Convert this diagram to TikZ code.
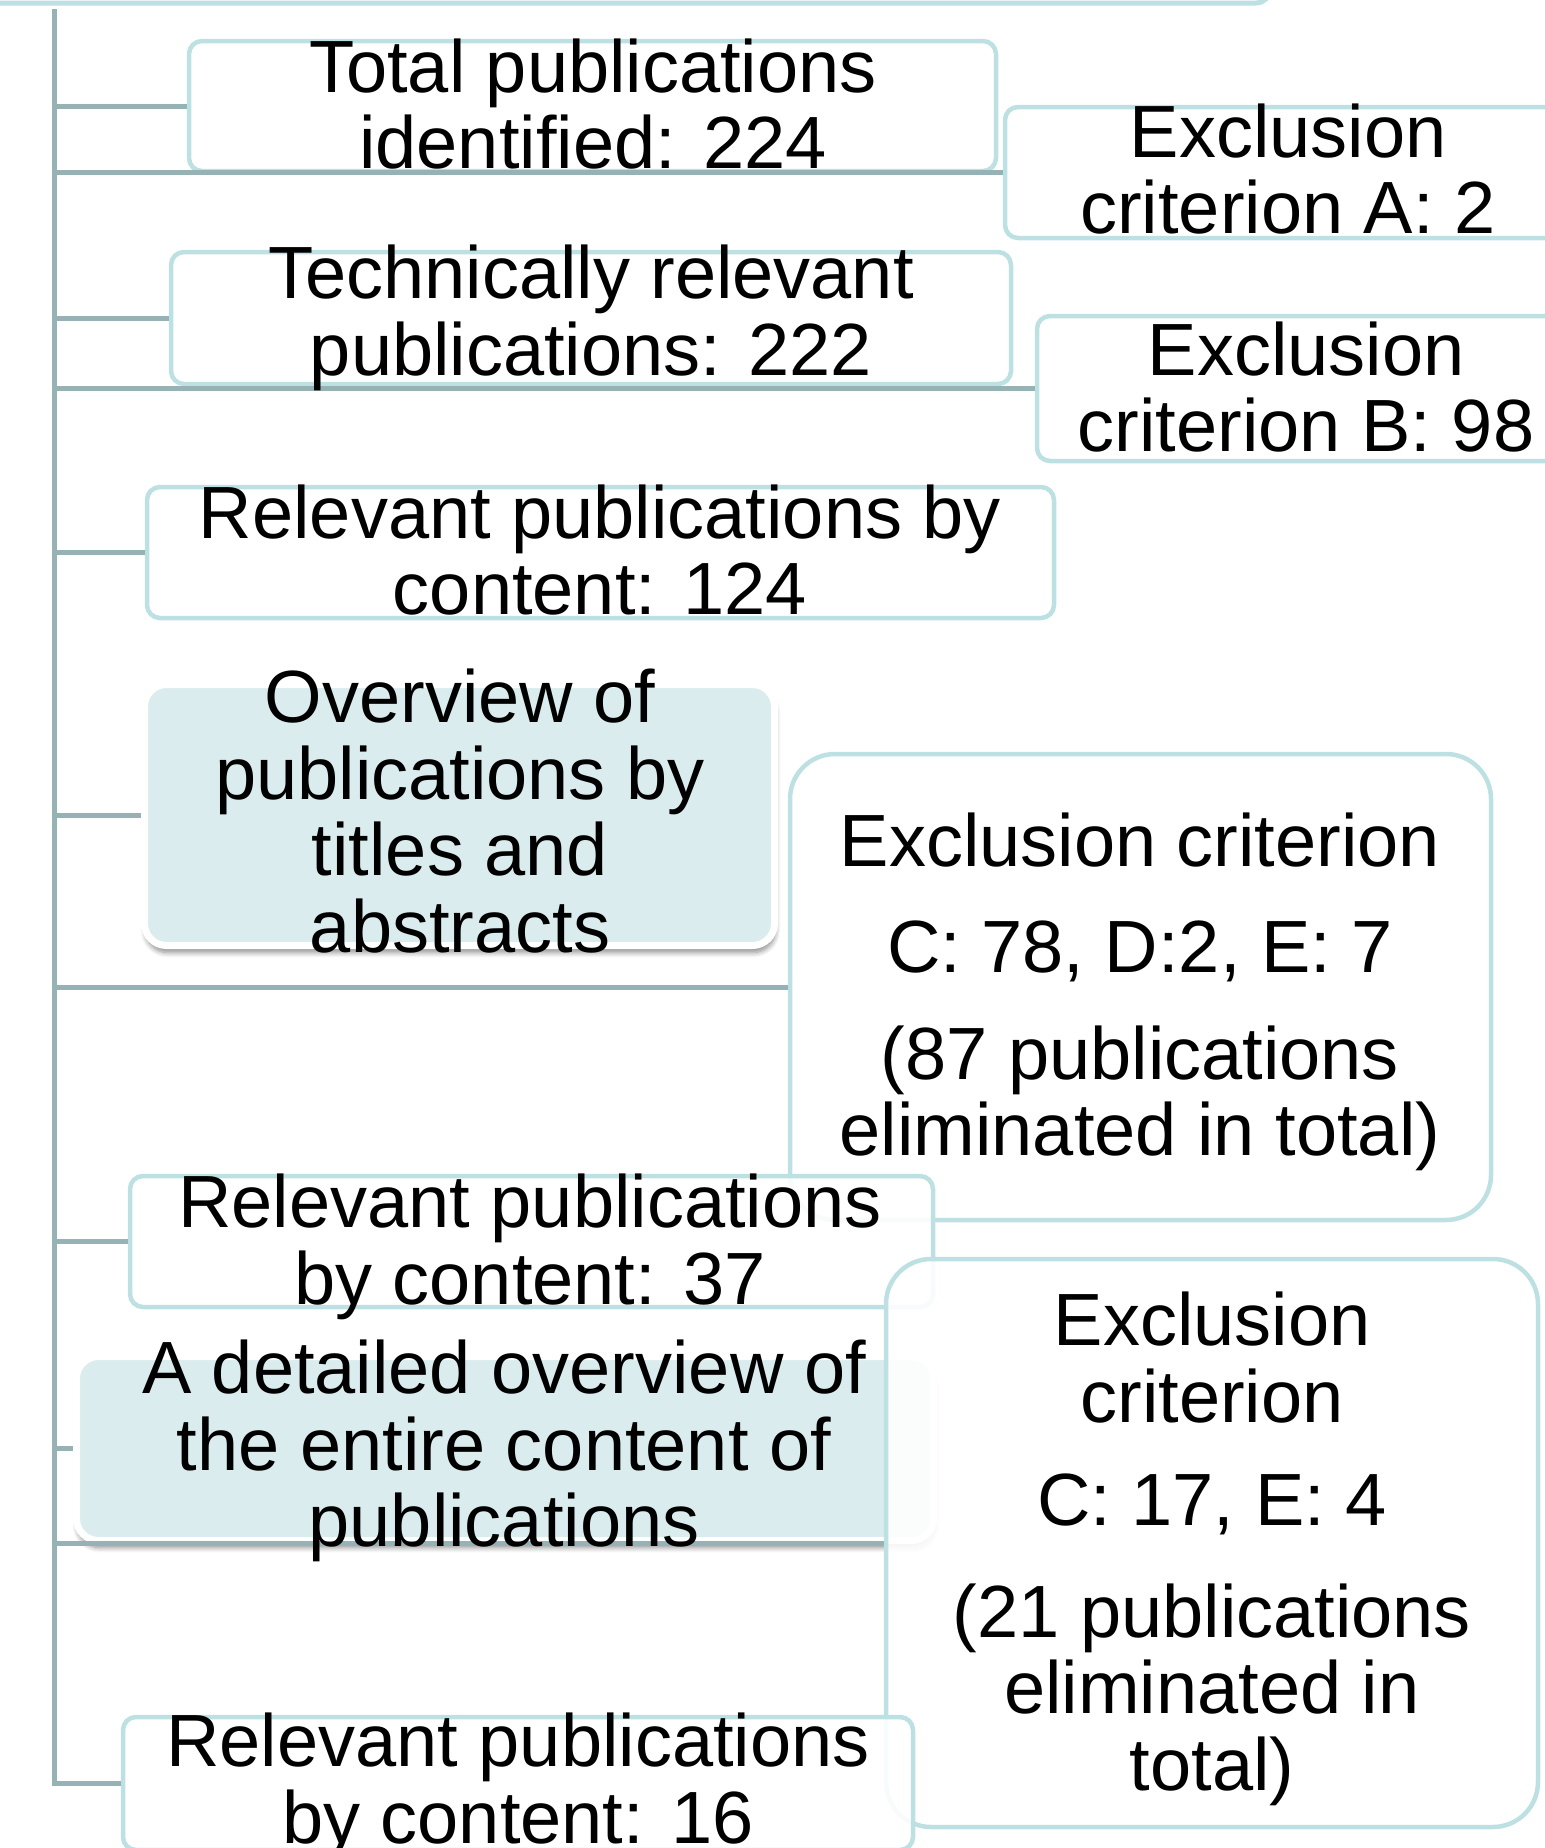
\documentclass[tikz,border=0pt]{standalone}
\usepackage{fontspec}
\setmainfont{Liberation Sans}
\usetikzlibrary{shadows,shadows.blur}
\definecolor{bord}{RGB}{189,224,227}
\definecolor{conn}{RGB}{150,178,181}
\definecolor{fillb}{RGB}{218,236,237}
\begin{document}
\begin{tikzpicture}[x=1pt,y=-1pt,
  plainbox/.style={draw=bord,line width=4.5pt,fill=white,fill opacity=0.9,draw opacity=1,rounded corners=13pt,inner sep=0pt,rectangle},
  bigbox/.style={plainbox,rounded corners=45pt},
  shadebox/.style={draw=white,line width=7pt,fill=fillb,rounded corners=22pt,inner sep=0pt,rectangle,
     blur shadow={shadow xshift=1pt,shadow yshift=-7pt,shadow blur radius=5pt,shadow blur steps=8,shadow opacity=45}},
  txt/.style={align=center,inner sep=0pt,font=\fontsize{74}{76.5}\selectfont},
  connline/.style={draw=conn,line width=5pt}]
\useasboundingbox (0,0) rectangle (1545,1848);
\clip (0,0) rectangle (1545,1848);
% top bar
\node[draw=bord,line width=5pt,rounded corners=14pt,minimum width=1400pt,minimum height=120pt,inner sep=0pt] (topbar) at (570,-57) {};
% boxes
\node[plainbox,minimum width=807pt,minimum height=130pt] (b1) at (592.5,106) {};
\node[plainbox,minimum width=566pt,minimum height=131pt] (exA) at (1288,172.5) {};
\node[plainbox,minimum width=840pt,minimum height=132pt] (b2) at (591,318) {};
\node[plainbox,minimum width=538pt,minimum height=145pt] (exB) at (1306,388.5) {};
\node[plainbox,minimum width=907pt,minimum height=131pt] (b3) at (600.5,552.5) {};
\node[shadebox,minimum width=630pt,minimum height=261pt] (b4) at (459.5,815) {};
\node[bigbox,minimum width=701pt,minimum height=466pt] (exC) at (1140.5,987) {};
\node[plainbox,minimum width=803pt,minimum height=131pt] (b5) at (531.5,1241.5) {};
\node[shadebox,minimum width=857pt,minimum height=184pt] (b6) at (505,1448.5) {};
\node[bigbox,minimum width=652pt,minimum height=568pt] (exD) at (1212,1543) {};
\node[plainbox,minimum width=790pt,minimum height=133pt] (b7) at (518,1783.5) {};
% connectors
\coordinate (vtop) at (54,9);
\coordinate (vbot) at (54,1785.5);
\draw[connline] (vtop) -- (vbot);
\foreach \n in {b1,exA,b2,exB,b3,b4,exC,b5,b6,exD,b7}{
  \draw[connline] (vtop |- \n.west) -- (\n.west);
}
% texts
\node[txt] (t1) at (593,104) {Total publications\\identified: 224};
\node[txt] (tA) at (1288,169) {Exclusion\\criterion A: 2};
\node[txt] (t2) at (591,318) {Technically relevant\\publications: 222};
\node[txt] (tB) at (1306,387) {Exclusion\\criterion B: 98};
\node[txt] (t3) at (600,550) {Relevant publications by\\content: 124};
\node[txt] (t4) at (460,811) {Overview of\\publications by\\titles and\\abstracts};
\node[txt] (tC) at (1140,992) {Exclusion criterion\\[30pt]C: 78, D:2, E: 7\\[30pt](87 publications\\eliminated in total)};
\node[txt] (t5) at (530,1247) {Relevant publications\\by content: 37};
\node[txt] (t6) at (504,1451) {A detailed overview of\\the entire content of\\publications};
\node[txt] (tD) at (1212,1549) {Exclusion\\criterion\\[27pt]C: 17, E: 4\\[35pt](21 publications\\eliminated in\\total)};
\node[txt] (t7) at (518,1786) {Relevant publications\\by content: 16};
\end{tikzpicture}
\end{document}
